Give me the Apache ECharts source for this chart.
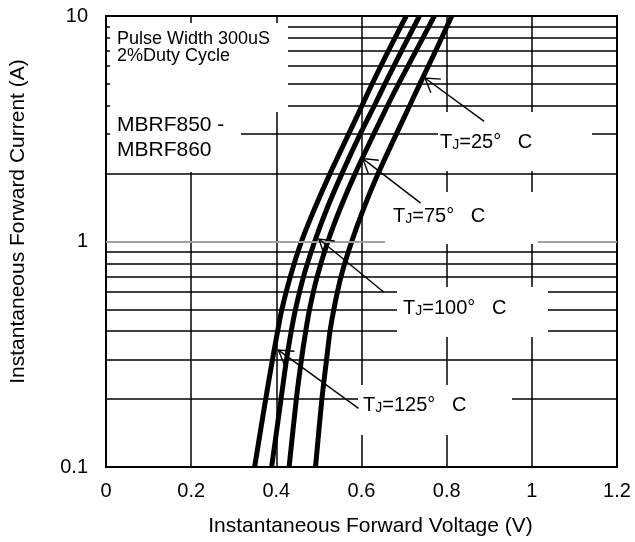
<!DOCTYPE html>
<html><head><meta charset="utf-8">
<script src="https://cdn.jsdelivr.net/npm/echarts@6/dist/echarts.min.js"></script>
<style>html,body{margin:0;padding:0;background:#fff}#c{width:635px;height:542px}</style>
</head><body><div id="c"></div>
<script>
// ---- data ----
const currentLevels = [0.1, 0.2, 0.3, 0.4, 0.5, 0.7, 1, 1.4, 2, 3, 4, 5, 7, 10];
const vfTj125 = [0.349, 0.375, 0.391, 0.403, 0.413, 0.433, 0.459, 0.490, 0.526, 0.570, 0.601, 0.625, 0.663, 0.705];
const vfTj100 = [0.389, 0.411, 0.424, 0.435, 0.445, 0.464, 0.490, 0.519, 0.554, 0.597, 0.630, 0.655, 0.694, 0.736];
const vfTj75  = [0.430, 0.447, 0.459, 0.469, 0.478, 0.496, 0.521, 0.550, 0.585, 0.629, 0.661, 0.687, 0.728, 0.771];
const vfTj25  = [0.492, 0.507, 0.518, 0.526, 0.535, 0.552, 0.577, 0.605, 0.639, 0.682, 0.713, 0.737, 0.774, 0.812];
const xTickValues = [0, 0.2, 0.4, 0.6, 0.8, 1, 1.2];
const yTickLabels = ['0.1', '1', '10'];
const yMinorGrid = [0.2, 0.3, 0.4, 0.5, 0.6, 0.7, 0.8, 0.9, 2, 3, 4, 5, 6, 7, 8, 9];
const yGrayLine = [1];
const tjLabels = ['25', '75', '100', '125'];
const arrowTips  = [[0.749, 5.31], [0.603, 2.33], [0.500, 1.026], [0.405, 0.330]];
const arrowTails = [[0.888, 3.41], [0.739, 1.479], [0.652, 0.597], [0.593, 0.182]];

const FONT = '"Liberation Sans", Arial, sans-serif';
const chart = echarts.init(document.getElementById('c'));
const pairs = xs => xs.map((x, i) => [x, currentLevels[i]]);
const curve = (name, xs) => ({
  name, type: 'line', data: pairs(xs), z: 3, symbol: 'none', smooth: 0.3,
  lineStyle: { color: '#000', width: 5 }, silent: true
});

chart.setOption({
  animation: false,
  grid: { left: 102, right: 18, top: 16, bottom: 73, show: true, borderColor: '#000', borderWidth: 2, backgroundColor: 'transparent' },
  xAxis: {
    type: 'value', min: 0, max: 1.2, interval: 0.2,
    axisLine: { show: false }, axisTick: { show: false },
    splitLine: { show: true, lineStyle: { color: '#000', width: 1.5 } },
    axisLabel: { color: '#000', fontSize: 20, fontFamily: FONT, margin: 14,
      formatter: v => String(xTickValues.find(t => Math.abs(t - v) < 1e-6) ?? +v.toFixed(1)) },
    name: 'Instantaneous Forward Voltage (V)', nameLocation: 'middle', nameGap: 49,
    nameTextStyle: { color: '#000', fontSize: 21, fontFamily: FONT, padding: [0, 0, 0, 18] }
  },
  yAxis: {
    type: 'log', logBase: 10, min: 0.1, max: 10,
    axisLine: { show: false }, axisTick: { show: false }, splitLine: { show: false },
    axisLabel: { color: '#000', fontSize: 20, fontFamily: FONT, margin: 18,
      formatter: v => yTickLabels[Math.round(Math.log10(v)) + 1] },
    name: 'Instantaneous Forward Current (A)', nameLocation: 'middle', nameGap: 77,
    nameTextStyle: { color: '#000', fontSize: 21, fontFamily: FONT, padding: [0, 0, 0, 40] }
  },
  series: [
    { type: 'line', data: [], z: 1, silent: true,
      markLine: { silent: true, symbol: ['none', 'none'], label: { show: false }, animation: false,
        lineStyle: { color: '#000', width: 1.5, type: 'solid' },
        emphasis: { disabled: true },
        data: yMinorGrid.map(v => ({ yAxis: v }))
          .concat(yGrayLine.map(v => ({ yAxis: v, lineStyle: { color: '#a0a0a0', width: 2, type: 'solid' } }))) } },
    curve('TJ=125', vfTj125),
    curve('TJ=100', vfTj100),
    curve('TJ=75', vfTj75),
    curve('TJ=25', vfTj25)
  ]
});

// ---- annotations ----
const boxes = [[110, 23, 178, 89], [110, 112, 131, 60], [438, 112, 154, 59], [385, 192, 153, 52], [397, 287, 151, 50], [358, 385, 154, 50]];
const tjPos = [[440, 141], [393, 215.5], [403, 307.5], [363, 404]];
const g = [];
boxes.forEach(b => g.push({ type: 'rect', z: 100, silent: true, shape: { x: b[0], y: b[1], width: b[2], height: b[3] }, style: { fill: '#fff' } }));
const txt = (s, x, y, size) => ({ type: 'text', z: 110, silent: true, x, y,
  style: { text: s, fill: '#000', fontSize: size, fontFamily: FONT, verticalAlign: 'middle', align: 'left' } });
g.push(txt('Pulse Width 300uS', 117, 38.7, 18));
g.push(txt('2%Duty Cycle', 117, 56.3, 18));
g.push(txt('MBRF850 -', 117, 124.8, 21));
g.push(txt('MBRF860', 117, 150.5, 21));
tjLabels.forEach((t, i) => {
  g.push({ type: 'text', z: 110, silent: true, x: tjPos[i][0], y: tjPos[i][1],
    style: { text: '{t|T}{j|J}{n|=' + t + '°   C}', fill: '#000', verticalAlign: 'middle', align: 'left',
      rich: {
        t: { fontSize: 20, fontFamily: FONT, lineHeight: 22, verticalAlign: 'bottom', fill: '#000' },
        j: { fontSize: 14, fontFamily: FONT, lineHeight: 16, verticalAlign: 'bottom', fill: '#000' },
        n: { fontSize: 20, fontFamily: FONT, lineHeight: 22, verticalAlign: 'bottom', fill: '#000' }
      } } });
  const tip = chart.convertToPixel({ gridIndex: 0 }, arrowTips[i]);
  const tail = chart.convertToPixel({ gridIndex: 0 }, arrowTails[i]);
  const dx = tail[0] - tip[0], dy = tail[1] - tip[1], L = Math.hypot(dx, dy);
  const ux = dx / L, uy = dy / L, a = 32 * Math.PI / 180, len = 16;
  const rot = (s) => [tip[0] + len * (ux * Math.cos(s) - uy * Math.sin(s)), tip[1] + len * (ux * Math.sin(s) + uy * Math.cos(s))];
  const ls = { stroke: '#000', lineWidth: 1.4, fill: null };
  g.push({ type: 'line', z: 105, silent: true, shape: { x1: tail[0], y1: tail[1], x2: tip[0], y2: tip[1] }, style: ls });
  g.push({ type: 'polyline', z: 105, silent: true, shape: { points: [rot(a), tip, rot(-a)] }, style: ls });
});
chart.setOption({ graphic: g });
</script></body></html>
